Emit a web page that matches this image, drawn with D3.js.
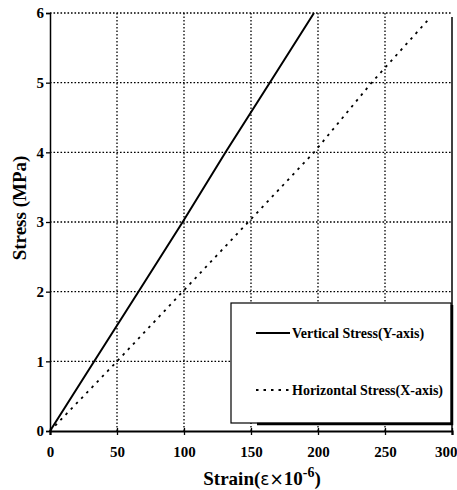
<!DOCTYPE html>
<html>
<head>
<meta charset="utf-8">
<script src="https://cdn.jsdelivr.net/npm/d3@7"></script>
<style>
  html, body { margin: 0; padding: 0; background: #fff; }
  text { font-family: "Liberation Serif", "Times New Roman", serif; font-weight: bold; fill: #000; }
</style>
</head>
<body>
<div id="chart"></div>
<script>
// stress-strain curves
const xTicks = [0, 50, 100, 150, 200, 250, 300];
const yTicks = [0, 1, 2, 3, 4, 5, 6];

const verticalStrain = [0, 33, 66, 99, 131, 164, 197];
const verticalStress = [0, 1, 2, 3, 4, 5, 6];

const horizontalStrain = [0, 50, 99, 148, 197, 240, 284];
const horizontalStress = [0, 1, 2, 3, 4, 5, 5.94];

const seriesNames = ["Vertical Stress(Y-axis)", "Horizontal Stress(X-axis)"];

const width = 457, height = 490;
const margin = { top: 13, right: 5, bottom: 59, left: 50 };
const innerW = width - margin.left - margin.right;
const innerH = height - margin.top - margin.bottom;

const svg = d3.select("#chart").append("svg")
  .attr("width", width)
  .attr("height", height);

svg.append("rect").attr("width", width).attr("height", height).attr("fill", "#fff");

const g = svg.append("g")
  .attr("transform", `translate(${margin.left},${margin.top})`);

const x = d3.scaleLinear().domain([0, 300]).range([0, innerW]);
const y = d3.scaleLinear().domain([0, 6]).range([innerH, 0]);

// dotted grid
const gridG = g.append("g")
  .attr("stroke", "#000")
  .attr("stroke-width", 1.3)
  .attr("stroke-dasharray", "1.6,1.9");

gridG.selectAll(".vg").data(xTicks.filter(d => d > 0 && d < 300)).join("line")
  .attr("x1", d => x(d)).attr("x2", d => x(d))
  .attr("y1", 0).attr("y2", innerH);

gridG.selectAll(".hg").data(yTicks.filter(d => d > 0)).join("line")
  .attr("x1", 0).attr("x2", innerW)
  .attr("y1", d => y(d)).attr("y2", d => y(d));

// right border
g.append("line")
  .attr("x1", innerW).attr("x2", innerW)
  .attr("y1", 4).attr("y2", innerH)
  .attr("stroke", "#000").attr("stroke-width", 1.5);

// axes
const xAxis = d3.axisBottom(x).tickValues(xTicks).tickSize(4).tickPadding(11).tickFormat(d3.format("d"));
const yAxis = d3.axisLeft(y).tickValues(yTicks).tickSize(4).tickPadding(2).tickFormat(d3.format("d"));

const xAxisG = g.append("g").attr("transform", `translate(0,${innerH})`).call(xAxis);
const yAxisG = g.append("g").call(yAxis);

[xAxisG, yAxisG].forEach(a => {
  a.selectAll("text").style("font-family", "'Liberation Serif', 'Times New Roman', serif")
    .style("font-weight", "bold").style("font-size", "15px").attr("fill", "#000");
  a.selectAll("line").attr("stroke", "#000").attr("stroke-width", 1.3);
});
xAxisG.select(".domain").attr("stroke", "#000").attr("stroke-width", 2.2);
yAxisG.select(".domain").attr("stroke", "#000").attr("stroke-width", 1.5);
xAxisG.selectAll(".tick line").attr("y1", -3);
// last label sits against the right edge
xAxisG.selectAll(".tick text").filter(d => d === 300)
  .attr("text-anchor", "end").attr("dx", 5);

// series
const line = d3.line().x(d => x(d[0])).y(d => y(d[1]));

g.append("path")
  .datum(d3.zip(verticalStrain, verticalStress))
  .attr("fill", "none")
  .attr("stroke", "#000")
  .attr("stroke-width", 2)
  .attr("d", line);

g.append("path")
  .datum(d3.zip(horizontalStrain, horizontalStress))
  .attr("fill", "none")
  .attr("stroke", "#000")
  .attr("stroke-width", 1.8)
  .attr("stroke-dasharray", "2.5,5")
  .attr("d", line);

// legend
const lg = svg.append("g");
const lx0 = 231, lx1 = margin.left + innerW - 1, ly0 = 303, ly1 = 423;

lg.append("rect")
  .attr("x", lx0).attr("y", ly0)
  .attr("width", lx1 - lx0).attr("height", ly1 - ly0)
  .attr("fill", "#fff").attr("stroke", "#000").attr("stroke-width", 1.2);

lg.append("path")
  .attr("d", `M${lx0 + 26},${ly1 + 1} H${lx1 + 1} V${ly0 + 2}`)
  .attr("fill", "none").attr("stroke", "#000").attr("stroke-width", 2.5);

const legendRows = [
  { name: seriesNames[0], yPos: 333, dash: null },
  { name: seriesNames[1], yPos: 390, dash: "2.5,5" }
];

legendRows.forEach(r => {
  lg.append("line")
    .attr("x1", 256).attr("x2", 290)
    .attr("y1", r.yPos).attr("y2", r.yPos)
    .attr("stroke", "#000").attr("stroke-width", 1.8)
    .attr("stroke-dasharray", r.dash);
  lg.append("text")
    .attr("x", 292).attr("y", r.yPos + 4.5)
    .style("font-size", "14px")
    .text(r.name);
});

// axis titles
const xt = svg.append("text")
  .attr("x", 262).attr("y", 485)
  .attr("text-anchor", "middle")
  .style("font-size", "19px");
xt.append("tspan").text("Strain(");
xt.append("tspan").style("font-family", "'DejaVu Sans', sans-serif").style("font-weight", "normal").style("font-size", "17px").text("ε×");
xt.append("tspan").text("10");
xt.append("tspan").attr("dy", -8).style("font-size", "14px").text("-6");
xt.append("tspan").attr("dy", 8).text(")");

svg.append("text")
  .attr("transform", "translate(26,208) rotate(-90)")
  .attr("text-anchor", "middle")
  .style("font-size", "19px")
  .text("Stress (MPa)");
</script>
</body>
</html>
